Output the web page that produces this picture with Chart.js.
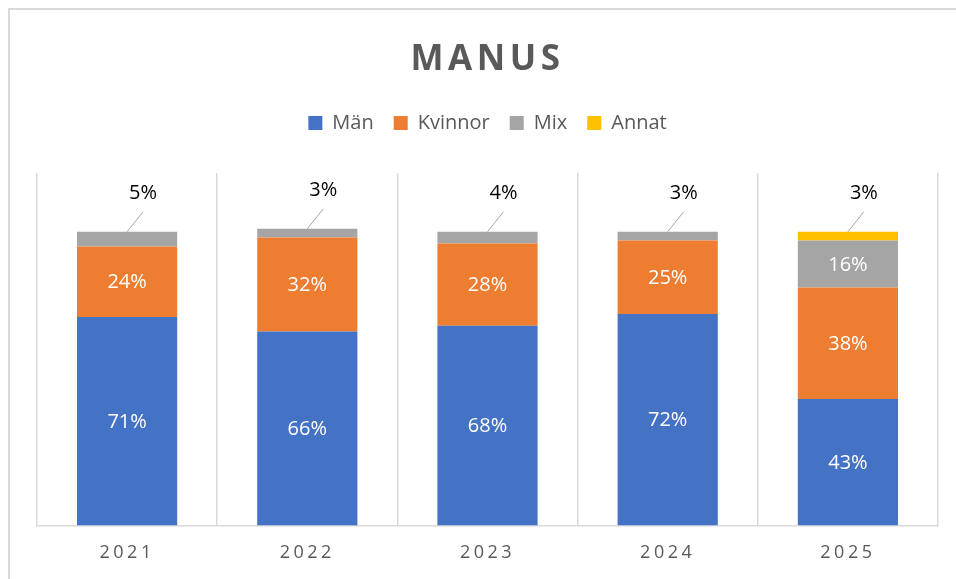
<!DOCTYPE html>
<html>
<head>
<meta charset="utf-8">
<title>MANUS</title>
<script src="https://cdn.jsdelivr.net/npm/chart.js@4.4.1/dist/chart.umd.min.js"></script>
<style>
  html, body { margin: 0; padding: 0; background: #fff; }
  #wrap { width: 956px; height: 579px; position: relative; }
</style>
</head>
<body>
<div id="wrap"><canvas id="chart"></canvas></div>
<script>
const years   = ['2021', '2022', '2023', '2024', '2025'];
const man     = [71, 66, 68, 72, 43];
const kvinnor = [24, 32, 28, 25, 38];
const mix     = [5, 3, 4, 3, 16];
const annat   = [0, 0, 0, 0, 3];

const FONT = '"Open Sans", "Noto Sans", sans-serif';
const GREY_TEXT = '#595959';

// canvas letterSpacing for title and year labels (Excel look)
var spaceOut = function(obj, fn, sp) {
    const orig = obj[fn];
    obj[fn] = function(area) {
        const ctx = this.ctx;
        const prev = ctx.letterSpacing;
        ctx.letterSpacing = sp;
        orig.call(this, area);
        ctx.letterSpacing = prev;
    };
};

const framePlugin = {
    id: 'frame',
    beforeInit(chart) {
        const fit = chart.legend.fit;
        chart.legend.fit = function() {
            fit.bind(chart.legend)();
            this.height += 30;
        };
    },
    beforeDraw(chart) {
        if (!chart.$spaced) {
            chart.$spaced = true;
            spaceOut(chart.titleBlock, 'draw', '4.5px');
            spaceOut(chart.scales.x, 'drawLabels', '3.5px');
        }
        const ctx = chart.ctx;
        ctx.save();
        ctx.fillStyle = '#fff';
        ctx.fillRect(0, 0, chart.width, chart.height);
        ctx.strokeStyle = '#d9d9d9';
        ctx.lineWidth = 2;
        ctx.strokeRect(9, 9, 2000, 2000);
        ctx.restore();
    }
};

// value labels: white inside the bar, callout with leader line for small top pieces
const labelPlugin = {
    id: 'labels',
    afterDatasetsDraw(chart) {
        const ctx = chart.ctx;
        ctx.save();
        ctx.font = '20px ' + FONT;
        ctx.textAlign = 'center';
        ctx.textBaseline = 'middle';
        chart.data.datasets.forEach(function(ds, i) {
            const meta = chart.getDatasetMeta(i);
            meta.data.forEach(function(el, j) {
                const v = ds.data[j];
                if (!v) return;
                const txt = v + '%';
                if (v < 6) {
                    const lx = el.x + 16;
                    ctx.strokeStyle = '#a6a6a6';
                    ctx.lineWidth = 1;
                    ctx.beginPath();
                    ctx.moveTo(el.x, el.y);
                    ctx.lineTo(lx, el.y - 20);
                    ctx.stroke();
                    ctx.fillStyle = '#000';
                    ctx.fillText(txt, lx, el.y - 38);
                } else {
                    ctx.fillStyle = '#fff';
                    ctx.fillText(txt, el.x, (el.y + el.base) / 2 + 1);
                }
            });
        });
        ctx.restore();
    }
};

var makeSet = function(label, data, color) {
    return {
        label: label,
        data: data,
        backgroundColor: color,
        borderWidth: 0,
        barPercentage: 1,
        categoryPercentage: 0.556
    };
};

new Chart(document.getElementById('chart'), {
    type: 'bar',
    data: {
        labels: years,
        datasets: [
            makeSet('Män', man, '#4472c4'),
            makeSet('Kvinnor', kvinnor, '#ed7d31'),
            makeSet('Mix', mix, '#a5a5a5'),
            makeSet('Annat', annat, '#ffc000')
        ]
    },
    options: {
        responsive: true,
        maintainAspectRatio: false,
        animation: false,
        layout: { padding: { left: 37, right: 18, top: 8, bottom: -2 } },
        plugins: {
            title: {
                display: true,
                text: 'MANUS',
                color: GREY_TEXT,
                font: { family: FONT, size: 35, weight: 'bold' },
                padding: { top: 31, bottom: 12 }
            },
            legend: {
                display: true,
                position: 'top',
                labels: {
                    color: GREY_TEXT,
                    font: { family: FONT, size: 20 },
                    boxWidth: 14,
                    boxHeight: 14,
                    padding: 20
                }
            },
            tooltip: { enabled: false }
        },
        scales: {
            x: {
                stacked: true,
                grid: { offset: true, color: '#d9d9d9', lineWidth: 1.5, drawTicks: false },
                border: { color: '#d9d9d9', width: 1.5 },
                ticks: { color: GREY_TEXT, font: { family: FONT, size: 18 }, padding: 17 }
            },
            y: {
                stacked: true,
                display: false,
                min: 0,
                max: 120
            }
        }
    },
    plugins: [framePlugin, labelPlugin]
});
</script>
</body>
</html>
